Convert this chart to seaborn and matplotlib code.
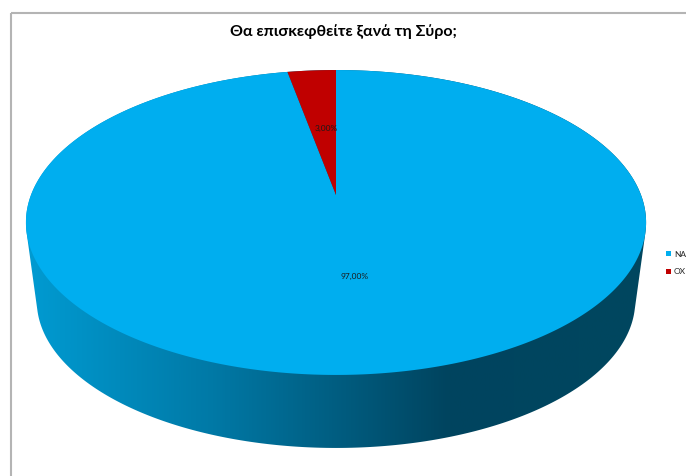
import numpy as np
import matplotlib
matplotlib.use("Agg")
import matplotlib.pyplot as plt
import seaborn as sns
from matplotlib.patches import Polygon, Rectangle, Patch
from matplotlib.colors import LinearSegmentedColormap

# Survey answers and their shares (%)
labels = ["NA", "OX"]
values = [97.0, 3.0]
value_labels = ["97,00%", "3,00%"]
colors = ["#00AEEF", "#C00000"]
title = "Θα επισκεφθείτε ξανά τη Σύρο;"

sns.set_theme(style="white")
plt.rcParams["font.family"] = ["Lato", "DejaVu Sans"]

W, H = 686, 476
fig = plt.figure(figsize=(W / 100, H / 100), dpi=100)
ax = fig.add_axes([0, 0, 1, 1])
ax.set_xlim(0, W)
ax.set_ylim(H, 0)
ax.axis("off")

# Perspective projection of the pie disc (pixel space)
CX, CY_TOP = 336.0, 195.0
R, S, K = 305.0, 147.5, 0.1803
DEPTH_SCALE, CY_BOT = 0.965, 274.3


def project(theta, r=1.0, top=True):
    """theta in degrees, clockwise from the far side of the disc."""
    t = np.radians(theta)
    x = r * np.sin(t)
    y = r * np.cos(t)
    w = 1 + K * y
    f = 1.0 if top else DEPTH_SCALE
    cy = CY_TOP if top else CY_BOT
    return CX + f * R * x / w, cy - f * S * y / w


def hull(pts):
    pts = sorted(map(tuple, pts))
    def cross(o, a, b):
        return (a[0] - o[0]) * (b[1] - o[1]) - (a[1] - o[1]) * (b[0] - o[0])
    lower, upper = [], []
    for p in pts:
        while len(lower) >= 2 and cross(lower[-2], lower[-1], p) <= 0:
            lower.pop()
        lower.append(p)
    for p in reversed(pts):
        while len(upper) >= 2 and cross(upper[-2], upper[-1], p) <= 0:
            upper.pop()
        upper.append(p)
    return np.array(lower[:-1] + upper[:-1])


ang = np.linspace(0, 360, 721)
top_pts = np.column_stack(project(ang, top=True))
bot_pts = np.column_stack(project(ang, top=False))
outline = hull(np.vstack([top_pts, bot_pts]))

# Side wall with horizontal shading
side_cmap = LinearSegmentedColormap.from_list(
    "side", [(0.0, "#009BD2"), (0.3, "#0079A6"), (0.68, "#00445F"), (1.0, "#00475F")]
)
x0, x1 = outline[:, 0].min(), outline[:, 0].max()
y0, y1 = outline[:, 1].min(), outline[:, 1].max()
grad = np.linspace(0, 1, 512)[None, :]
side_poly = Polygon(outline, closed=True, facecolor="none", edgecolor="none")
ax.add_patch(side_poly)
im = ax.imshow(grad, cmap=side_cmap, extent=(x0, x1, y1, y0), aspect="auto",
               interpolation="bilinear", zorder=1)
im.set_clip_path(side_poly)

# Top face slices, starting at 12 o'clock and running clockwise
total = sum(values)
start = 0.0
for lab, val, col, txt in zip(labels, values, colors, value_labels):
    sweep = 360.0 * val / total
    a = np.linspace(start, start + sweep, max(int(sweep * 2), 4))
    xs, ys = project(a, top=True)
    pts = np.column_stack([np.r_[CX, xs], np.r_[CY_TOP, ys]])
    ax.add_patch(Polygon(pts, closed=True, facecolor=col, edgecolor="none", zorder=2))
    mx, my = project(start + sweep / 2, r=0.5, top=True)
    ax.text(mx + 3, my + 1, txt, fontsize=6, color="#1a1a1a", ha="center", va="center", zorder=3)
    start += sweep

# Chart frame
ax.add_patch(Rectangle((10.5, 12.5), 800, 600, facecolor="none",
                       edgecolor="#B4B4B4", lw=1.5, zorder=0))

ax.text(343, 32, title, fontsize=11.5, fontweight="bold", color="black",
        ha="center", va="center")

handles = [Patch(facecolor=c, edgecolor="none", label=l) for c, l in zip(colors, labels)]
fig.legend(handles=handles, loc="center left", bbox_to_anchor=(666 / W, 1 - 263 / H),
           frameon=False, fontsize=6, handlelength=0.6, handleheight=0.6,
           handletextpad=0.35, labelspacing=1.3, borderpad=0, borderaxespad=0)

fig.savefig("out.png", dpi=100)
